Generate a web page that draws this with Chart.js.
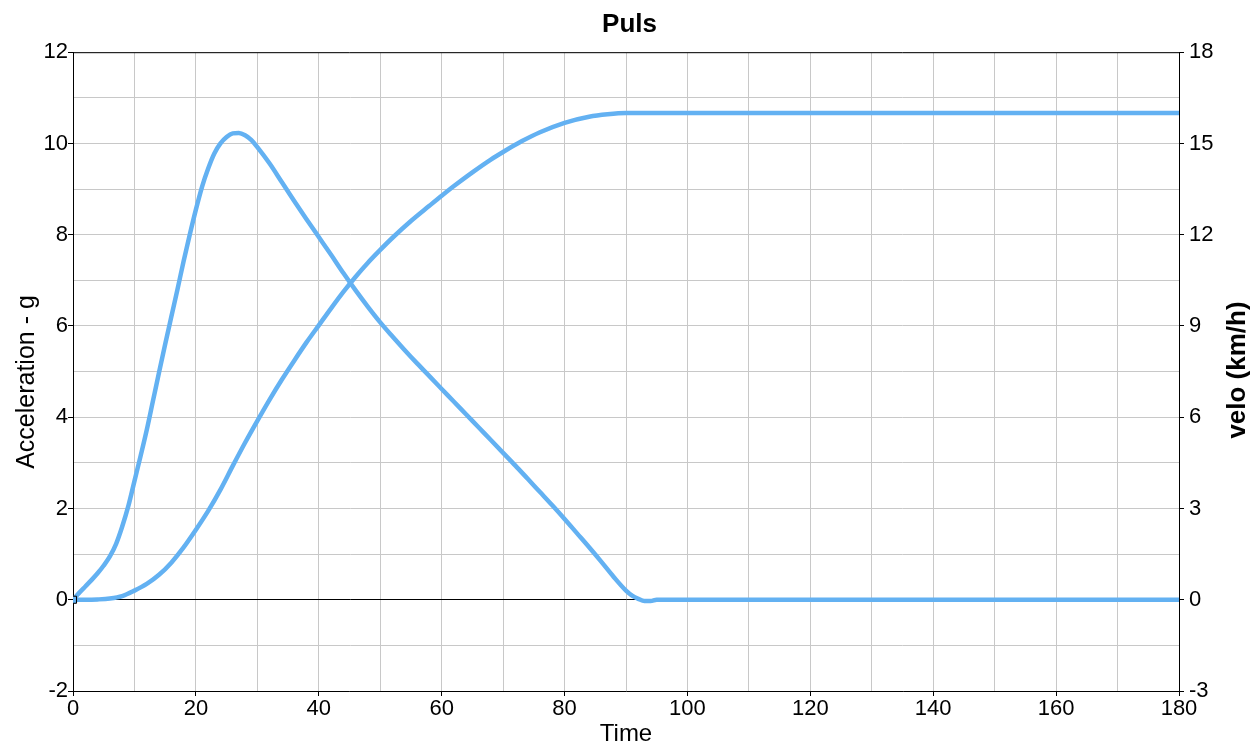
<!DOCTYPE html>
<html>
<head>
<meta charset="utf-8">
<title>Puls</title>
<script src="https://cdn.jsdelivr.net/npm/chart.js@4.4.1/dist/chart.umd.min.js"></script>
<style>
  html, body { margin: 0; padding: 0; background: #fff; }
  #wrap { width: 1259px; height: 746px; position: relative; }
</style>
</head>
<body>
<div id="wrap"><canvas id="puls"></canvas></div>
<script>
// acceleration pulse (g) over time (ms)
const accTime = [0, 1, 2, 3, 4, 5, 6, 7, 8, 9, 10, 11, 12, 13, 14, 15, 16, 17, 18, 19, 20,
  21, 22, 23, 24, 25, 26, 27, 28, 29, 30, 32, 34, 36, 38, 40, 42, 44, 46, 48, 50,
  52, 54, 56, 58, 60, 62, 64, 66, 68, 70, 72, 74, 76, 78, 80, 82, 84, 86, 88, 90,
  91, 92, 93, 94, 95, 100, 180];
const accG = [0, 0.15, 0.29, 0.43, 0.58, 0.75, 0.95, 1.22, 1.6, 2.05, 2.6, 3.15, 3.72, 4.35, 4.98, 5.6, 6.2, 6.8, 7.42, 8.0, 8.55,
  9.05, 9.45, 9.78, 10.0, 10.14, 10.22, 10.23, 10.18, 10.08, 9.92, 9.56, 9.15, 8.74, 8.34, 7.95, 7.56, 7.16, 6.78, 6.42, 6.08,
  5.77, 5.47, 5.18, 4.9, 4.62, 4.34, 4.06, 3.78, 3.5, 3.22, 2.94, 2.65, 2.36, 2.07, 1.77, 1.46, 1.15, 0.83, 0.5, 0.2,
  0.09, 0.02, -0.03, -0.03, 0, 0, 0];

// velocity (km/h)
const veloTime = [0, 2, 4, 6, 8, 10, 12, 14, 16, 18, 20, 22, 24, 26, 28, 30, 32, 34, 36, 38, 40,
  42, 44, 46, 48, 50, 52, 55, 58, 60, 62, 65, 68, 70, 73, 76, 80, 84, 87, 90, 180];
const veloKmh = [0, 0, 0.01, 0.04, 0.12, 0.3, 0.52, 0.82, 1.22, 1.72, 2.3, 2.92, 3.62, 4.4, 5.16, 5.88, 6.58, 7.24, 7.86, 8.46, 9.02,
  9.58, 10.12, 10.62, 11.08, 11.5, 11.9, 12.45, 12.95, 13.28, 13.6, 14.05, 14.47, 14.72, 15.07, 15.37, 15.68, 15.88, 15.96, 16.0, 16.0];

const lineBlue = '#63b1f2';
const gridGrey = '#c8c8c8';
const fontFam = "'Liberation Sans', Arial, sans-serif";

Chart.defaults.font.family = fontFam;
Chart.defaults.color = '#000';

const toXY = (xs, ys) => xs.map((x, i) => ({ x, y: ys[i] }));

function sideTitle(ctx, text, x, y, font) {
  ctx.save();
  ctx.translate(x, y);
  ctx.rotate(-Math.PI / 2);
  ctx.font = font;
  ctx.fillStyle = '#000';
  ctx.textAlign = 'center'; ctx.textBaseline = 'middle';
  ctx.fillText(text, 0, 0);
  ctx.restore();
}

// top border line + both vertical axis titles (read bottom-to-top)
const frame = {
  id: 'frame',
  beforeDatasetsDraw(chart) {
    const { ctx, chartArea: a } = chart;
    ctx.save();
    ctx.strokeStyle = '#000'; ctx.lineWidth = 1;
    ctx.beginPath(); ctx.moveTo(a.left, a.top + 0.5); ctx.lineTo(a.right, a.top + 0.5); ctx.stroke();
    ctx.restore();
  },
  afterDraw(chart) {
    const { ctx } = chart;
    sideTitle(ctx, 'Acceleration - g', 27, 382, '25px ' + fontFam);
    sideTitle(ctx, 'velo (km/h)', 1238, 370, 'bold 26px ' + fontFam);
  }
};

new Chart(document.getElementById('puls'), {
  type: 'line',
  data: {
    datasets: [
      { label: 'Acceleration', data: toXY(accTime, accG), yAxisID: 'y',
        borderColor: lineBlue, backgroundColor: lineBlue, borderWidth: 4.5,
        cubicInterpolationMode: 'monotone', clip: 0,
        pointStyle: 'rect', pointRadius: c => c.dataIndex === 0 ? 5 : 0,
        pointBorderColor: '#000', pointBorderWidth: 1, pointBackgroundColor: lineBlue },
      { label: 'velo', data: toXY(veloTime, veloKmh), yAxisID: 'y2',
        borderColor: lineBlue, backgroundColor: lineBlue, borderWidth: 4.5,
        cubicInterpolationMode: 'monotone', pointRadius: 0, clip: 0 }
    ]
  },
  options: {
    responsive: true, maintainAspectRatio: false, animation: false,
    layout: { padding: 0 },
    plugins: {
      legend: { display: false },
      tooltip: { enabled: false },
      title: { display: true, text: 'Puls', color: '#000',
        font: { size: 26, weight: 'bold' }, padding: { top: 9, bottom: 12 } }
    },
    scales: {
      x: {
        type: 'linear', min: 0, max: 180,
        afterFit: s => { s.height = 55; },
        ticks: { stepSize: 10, autoSkip: false, maxRotation: 0, padding: 0,
          font: { size: 22 }, color: '#000',
          callback: v => v % 20 === 0 ? v : '' },
        grid: { color: gridGrey, tickLength: 5,
          tickColor: c => c.tick && c.tick.value % 20 === 0 ? '#000' : 'transparent' },
        border: { color: '#000', width: 1 },
        title: { display: true, text: 'Time', font: { size: 24, lineHeight: 1 }, padding: { top: 0, bottom: 0 } }
      },
      y: {
        position: 'left', min: -2, max: 12,
        afterFit: s => { s.width = 73; },
        ticks: { stepSize: 1, autoSkip: false, padding: 0, font: { size: 22 }, color: '#000',
          callback: v => v % 2 === 0 ? v : '' },
        grid: { color: c => c.tick && c.tick.value === 0 ? '#000' : gridGrey, tickLength: 5,
          tickColor: c => c.tick && c.tick.value % 2 === 0 ? '#000' : 'transparent' },
        border: { color: '#000', width: 1 }
      },
      y2: {
        position: 'right', min: -3, max: 18,
        afterFit: s => { s.width = 80; },
        ticks: { stepSize: 3, autoSkip: false, padding: 5, font: { size: 22 }, color: '#000' },
        grid: { drawOnChartArea: false, tickLength: 5, tickColor: '#000' },
        border: { color: '#000', width: 1 }
      }
    }
  },
  plugins: [frame]
});
</script>
</body>
</html>
